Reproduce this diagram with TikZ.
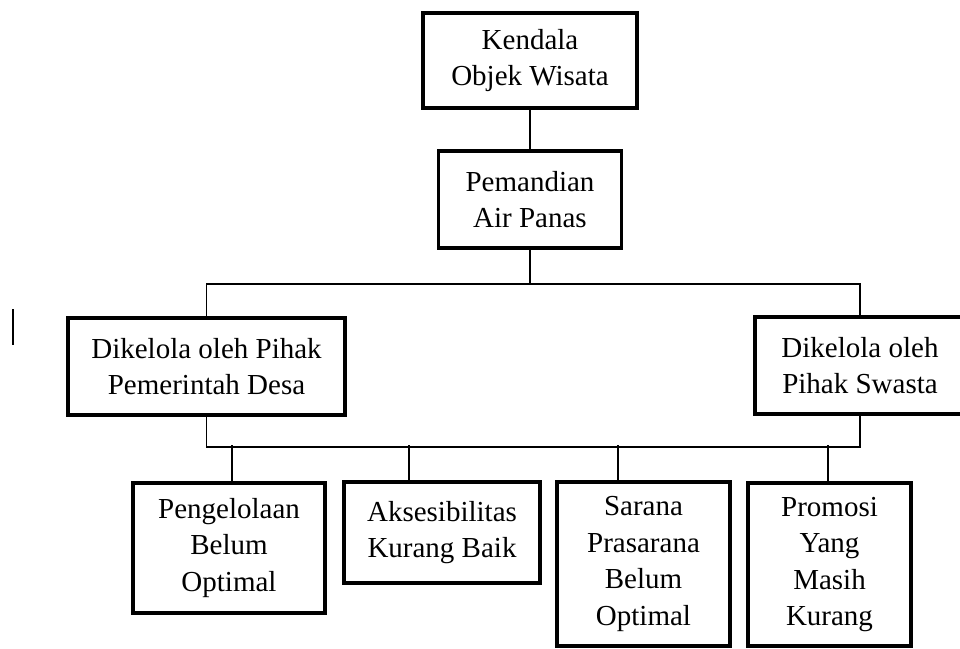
\documentclass[tikz,border=0pt]{standalone}
\usepackage{fontspec}
\setmainfont{Liberation Serif}

\begin{document}
\begin{tikzpicture}[x=1pt, y=-1pt, font=\fontsize{29}{36.5}\selectfont,
  kotak/.style={draw, line width=3.3pt, align=center, inner sep=0pt},
  garis/.style={line width=1.8pt}]

\useasboundingbox (0,0) rectangle (960,648);
\clip (0,0) rectangle (960,648);

\node[kotak, minimum width=214, minimum height=95] (kendala) at (530,60.5) {Kendala\\Objek Wisata};
\node[kotak, minimum width=183, minimum height=97] (pemandian) at (530,199.5) {Pemandian\\Air Panas};

\node[kotak, minimum width=277, minimum height=97] (desa) at (206.5,366.5) {Dikelola oleh Pihak\\Pemerintah Desa};
\node[kotak, minimum width=210, minimum height=97] (swasta) at (860,365.5) {Dikelola oleh\\Pihak Swasta};

\node[kotak, minimum width=192, minimum height=130] (kelola) at (229,548) {Pengelolaan\\Belum\\Optimal};
\node[kotak, minimum width=196, minimum height=101] (akses) at (442,532.5) {Aksesibilitas\\Kurang Baik};
\node[kotak, minimum width=173, minimum height=164] (sarana) at (643.5,564) {Sarana\\Prasarana\\Belum\\Optimal};
\node[kotak, minimum width=163, minimum height=163] (promosi) at (829.5,564.5) {Promosi\\Yang\\Masih\\Kurang};

\draw[garis] (kendala) -- (pemandian);
\draw[garis] (pemandian.south) -- ++(0,34) coordinate (bus1);
\draw[garis] (desa.north) |- (bus1) -| (swasta.north);

\draw[garis] (desa.south) -- ++(0,30) coordinate (bus2) -| (swasta.south);
\foreach \x/\n in {232/kelola, 409/akses, 618/sarana, 828/promosi} {
  \coordinate (t\n) at (\x,445);
  \draw[garis] (t\n) -- (t\n |- \n.north);
}

\draw[line width=2pt] (13,309) -- (13,345);

\end{tikzpicture}
\end{document}
